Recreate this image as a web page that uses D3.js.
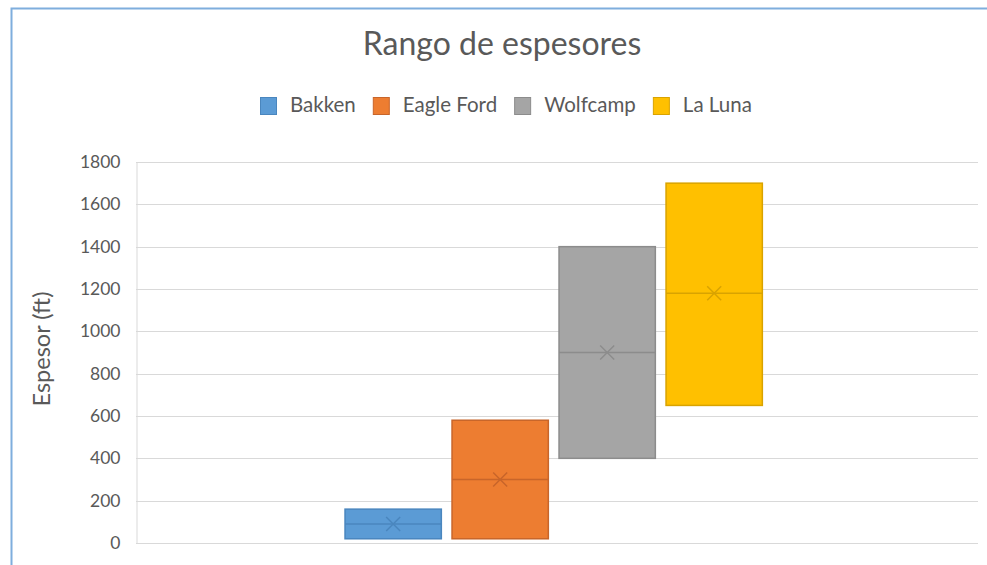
<!DOCTYPE html>
<html>
<head>
<meta charset="utf-8">
<script src="https://cdn.jsdelivr.net/npm/d3@7"></script>
<style>
  body { margin: 0; background: #fff; }
  svg { display: block; font-family: Lato, "Open Sans", sans-serif; }
</style>
</head>
<body>
<div id="chart"></div>
<script>
// data
const series = ["Bakken", "Eagle Ford", "Wolfcamp", "La Luna"];
const lowValues = [20, 20, 400, 650];
const highValues = [160, 580, 1400, 1700];
const medianValues = [90, 300, 900, 1180];
const meanValues = [90, 300, 900, 1180];
const yTicks = [0, 200, 400, 600, 800, 1000, 1200, 1400, 1600, 1800];
const fills = ["#5B9BD5", "#ED7D31", "#A5A5A5", "#FFC000"];
const strokes = ["#4A86BE", "#C8652A", "#8C8C8C", "#D9A300"];

const width = 987, height = 565;
const margin = { top: 162, right: 9, bottom: 22, left: 136 };

const data = series.map((s, i) => ({
  name: s, low: lowValues[i], high: highValues[i],
  median: medianValues[i], mean: meanValues[i],
  fill: fills[i], stroke: strokes[i]
}));

const svg = d3.create("svg")
  .attr("width", width)
  .attr("height", height);
// attach now so text lengths can be measured
document.getElementById("chart").appendChild(svg.node());

// selection frame from the spreadsheet
svg.append("path")
  .attr("d", `M11.5,${height} V8.5 H${width}`)
  .attr("fill", "none")
  .attr("stroke", "#7FAEDD")
  .attr("stroke-width", 2);

const y = d3.scaleLinear()
  .domain([0, 1800])
  .range([height - margin.bottom, margin.top]);

// one category, four series side by side
const x0 = d3.scaleBand()
  .domain([""])
  .range([margin.left, width - margin.right])
  .paddingInner(0)
  .paddingOuter(0.4836)
  .align(0.492);

const x1 = d3.scaleBand()
  .domain(series)
  .range([0, x0.bandwidth()])
  .paddingInner(0.1)
  .paddingOuter(0.05);

// gridlines
svg.append("g")
  .selectAll("line")
  .data(yTicks)
  .join("line")
  .attr("x1", margin.left)
  .attr("x2", width - margin.right)
  .attr("y1", d => Math.round(y(d)) + 0.5)
  .attr("y2", d => Math.round(y(d)) + 0.5)
  .attr("stroke", "#D9D9D9")
  .attr("stroke-width", 1);

// y axis
const yAxis = svg.append("g")
  .attr("transform", `translate(${margin.left + 0.5},0)`)
  .call(d3.axisLeft(y).tickValues(yTicks).tickFormat(d3.format("d")).tickSize(0).tickPadding(16));
yAxis.select(".domain").attr("stroke", "#D9D9D9");
yAxis.selectAll("text")
  .attr("fill", "#595959")
  .attr("font-size", "17.5px")
  .attr("font-family", "Lato, sans-serif");

svg.append("text")
  .attr("transform", `translate(50, 349) rotate(-90)`)
  .attr("text-anchor", "middle")
  .attr("fill", "#595959")
  .attr("font-size", "23.5px")
  .text("Espesor (ft)");

// boxes
const g = svg.append("g")
  .attr("transform", `translate(${x0("")},0)`);

const boxes = g.selectAll("g.box")
  .data(data)
  .join("g")
  .attr("class", "box");

boxes.append("rect")
  .attr("x", d => x1(d.name))
  .attr("width", x1.bandwidth())
  .attr("y", d => y(d.high))
  .attr("height", d => y(d.low) - y(d.high))
  .attr("fill", d => d.fill)
  .attr("stroke", d => d.stroke)
  .attr("stroke-width", 1.5);

boxes.append("line")
  .attr("x1", d => x1(d.name))
  .attr("x2", d => x1(d.name) + x1.bandwidth())
  .attr("y1", d => y(d.median))
  .attr("y2", d => y(d.median))
  .attr("stroke", d => d.stroke)
  .attr("stroke-width", 1.5);

const m = 7;
boxes.append("path")
  .attr("d", d => {
    const cx = x1(d.name) + x1.bandwidth() / 2, cy = y(d.mean);
    return `M${cx - m},${cy - m}L${cx + m},${cy + m}M${cx - m},${cy + m}L${cx + m},${cy - m}`;
  })
  .attr("stroke", d => d.stroke)
  .attr("stroke-width", 1.5)
  .attr("fill", "none");

// title
svg.append("text")
  .attr("x", 502)
  .attr("y", 55)
  .attr("text-anchor", "middle")
  .attr("fill", "#595959")
  .attr("font-size", "32px")
  .text("Rango de espesores");

// legend, centred over the chart
const legend = svg.append("g");
let lx = 0;
series.forEach((s, i) => {
  const item = legend.append("g").attr("transform", `translate(${lx},0)`);
  item.append("rect")
    .attr("x", 0.5).attr("y", 0.5)
    .attr("width", 16).attr("height", 17)
    .attr("fill", fills[i])
    .attr("stroke", strokes[i]);
  const t = item.append("text")
    .attr("x", 30)
    .attr("y", 15)
    .attr("fill", "#595959")
    .attr("font-size", "20.5px")
    .text(s);
  lx += 30 + t.node().getComputedTextLength() + (i < series.length - 1 ? 17 : 0);
});
legend.attr("transform", `translate(${Math.round(506 - lx / 2)}, 97)`);
</script>
</body>
</html>
